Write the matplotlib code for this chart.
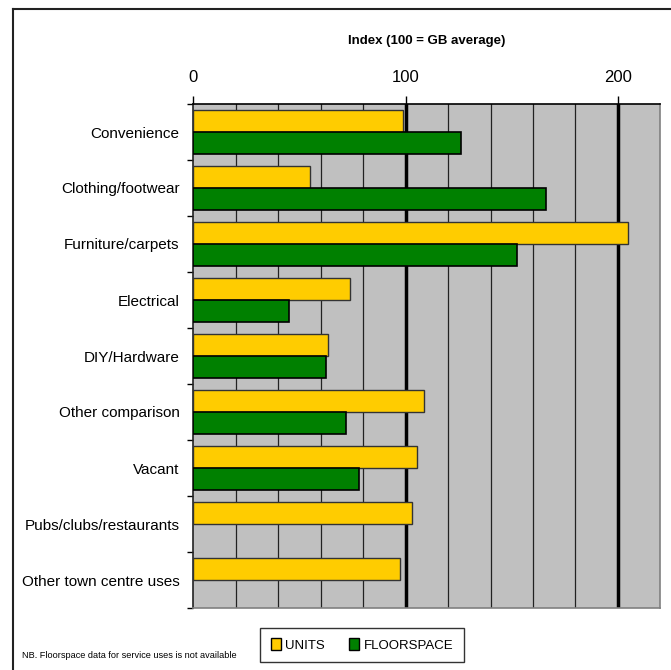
import matplotlib.pyplot as plt
from matplotlib.lines import Line2D
from matplotlib.patches import Patch

plt.rcParams['font.family'] = ['Liberation Sans', 'DejaVu Sans']

categories = ['Convenience', 'Clothing/footwear', 'Furniture/carpets', 'Electrical',
              'DIY/Hardware', 'Other comparison', 'Vacant', 'Pubs/clubs/restaurants',
              'Other town centre uses']
units = [98.6, 55.0, 204.6, 73.8, 63.5, 108.8, 105.5, 103.0, 97.5]
floorspace = [126.0, 166.0, 152.5, 45.0, 62.5, 71.9, 78.2, None, None]

fig = plt.figure(figsize=(6.71, 6.70), dpi=100)
ax = fig.add_axes([193.3 / 671, 1 - 608 / 670, (660.4 - 193.3) / 671, (608 - 104) / 670])
ax.set_facecolor('#C0C0C0')

pos = list(range(len(categories)))
ax.barh([p - 0.2 for p in pos], units, height=0.4, color='#FFCC00',
        edgecolor='#333333', linewidth=1.0, zorder=3)
fpos = [p + 0.2 for p, v in zip(pos, floorspace) if v is not None]
fval = [v for v in floorspace if v is not None]
ax.barh(fpos, fval, height=0.4, color='#008000', edgecolor='black', linewidth=1.2, zorder=3)

ax.set_xlim(0, 220)
ax.set_ylim(len(categories) - 0.5, -0.5)

for x in range(20, 220, 20):
    if x in (100, 200):
        ax.axvline(x, color='black', linewidth=2.5, zorder=2)
    else:
        ax.axvline(x, color='#222222', linewidth=0.9, zorder=2)

ax.xaxis.tick_top()
ax.set_xticks([0, 100, 200])
ax.set_xticklabels(['0', '100', '200'], fontsize=12)
ax.tick_params(axis='x', direction='out', length=6, width=1, pad=8)

ax.set_yticks([p - 0.5 for p in pos] + [len(categories) - 0.5])
ax.set_yticklabels([])
ax.set_yticks(pos, minor=True)
ax.set_yticklabels(categories, minor=True, fontsize=11)
ax.tick_params(axis='y', which='minor', length=0, pad=10)
ax.tick_params(axis='y', which='major', direction='out', length=4, width=1)

ax.spines['top'].set_color('black')
ax.spines['left'].set_color('#222222')
ax.spines['right'].set_color('#808080')
ax.spines['bottom'].set_color('#808080')
for s in ax.spines.values():
    s.set_linewidth(1.2)

fig.text(427 / 671, 1 - 41 / 670, 'Index (100 = GB average)', ha='center', va='center',
         fontsize=9.5, fontweight='bold')

handles = [Patch(facecolor='#FFCC00', edgecolor='black', label='UNITS'),
           Patch(facecolor='#008000', edgecolor='black', label='FLOORSPACE')]
leg = fig.legend(handles=handles, ncol=2, loc='center', bbox_to_anchor=(362 / 671, 1 - 645 / 670),
                 fontsize=9.5, frameon=True, fancybox=False, edgecolor='black',
                 handlelength=0.8, handleheight=1.0, handletextpad=0.3, columnspacing=1.8,
                 borderpad=0.8)
leg.get_frame().set_linewidth(1.0)

fig.text(22 / 671, 1 - 656 / 670, 'NB. Floorspace data for service uses is not available',
         ha='left', va='center', fontsize=6.6)

fig.add_artist(Line2D([13 / 671, 13 / 671], [0, 1 - 9 / 670], color='#222222', linewidth=1.5))
fig.add_artist(Line2D([13 / 671, 1], [1 - 9 / 670, 1 - 9 / 670], color='#222222', linewidth=1.5))

fig.savefig('out.png', dpi=100)
